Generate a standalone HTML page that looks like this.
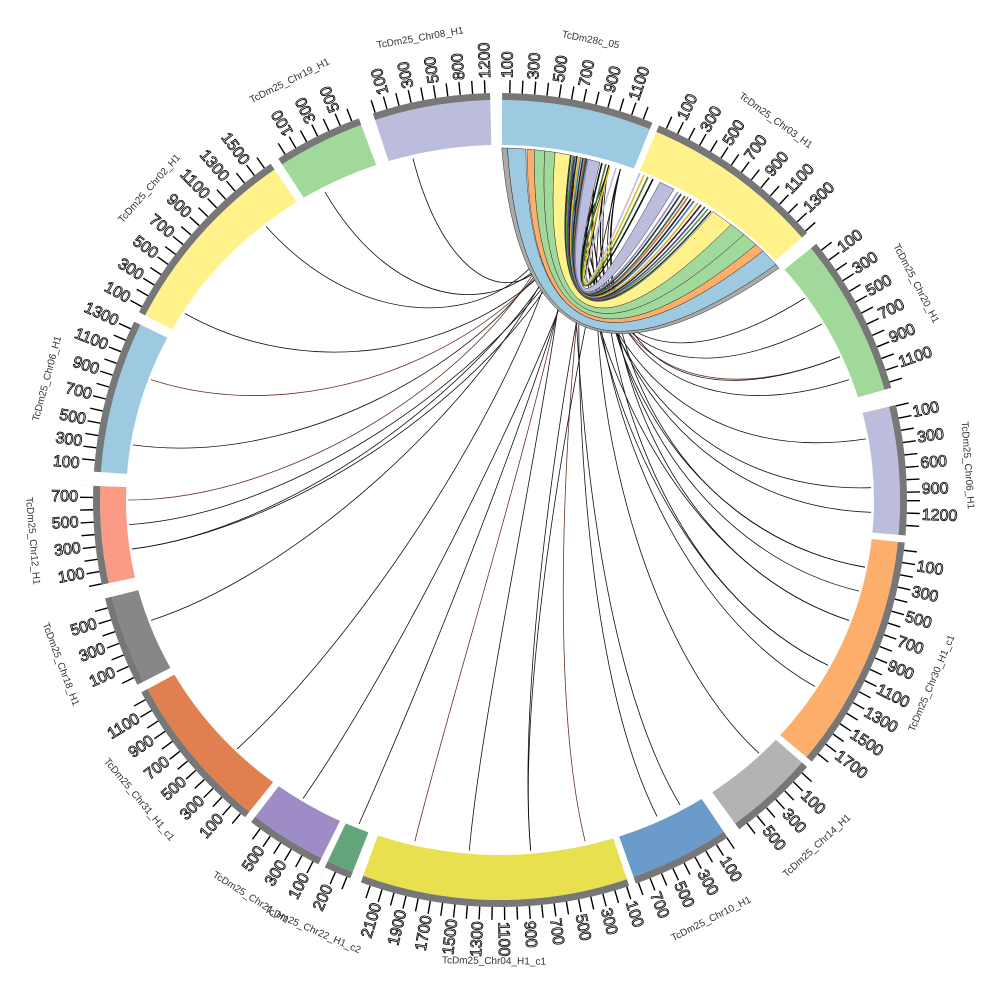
<!DOCTYPE html>
<html><head><meta charset="utf-8"><style>
html,body{margin:0;padding:0;background:#fff;width:1000px;height:1000px;overflow:hidden}
svg{display:block}
text{font-family:"Liberation Sans",sans-serif}
.n{font-size:16px;fill:#fff;stroke:#000;stroke-width:.8}
.m{font-size:16px;fill:#fff;stroke:#000;stroke-width:.8;text-anchor:end}
.nm{font-size:10px;fill:#333;text-anchor:middle}
.lk{fill:none;stroke:#111;stroke-width:.8}
.lb{fill:none;stroke:#6a3020;stroke-width:.8}
</style></head><body>
<svg width="1000" height="1000" viewBox="0 0 1000 1000" xmlns="http://www.w3.org/2000/svg">
<defs>
<mask id="mk"><rect x="0" y="0" width="1000" height="1000" fill="#fff"/><ellipse cx="500" cy="500" rx="374" ry="355" fill="#000"/></mask>
</defs>
<!-- links -->
<g>
<path class="lk" d="M573.2,155.7 C570,320 644,399 805,298"/>
<path class="lk" d="M585.2,158.5 C570,320 652,412 822,324"/>
<path class="lb" d="M597,161.6 C570,320 661,428 840,356.8"/>
<path class="lk" d="M608.8,165.2 C570,320 665,440 849,379.6"/>
<path class="lk" d="M573.2,155.7 C570,320 673,469 866,438.9"/>
<path class="lk" d="M585.2,158.5 C570,320 676,494 871,487.7"/>
<path class="lk" d="M597,161.6 C570,320 676,506 871,512.3"/>
<path class="lk" d="M608.8,165.2 C570,320 673,534 865,567.2"/>
<path class="lk" d="M620.4,169.2 C570,320 670,546 859,591.1"/>
<path class="lk" d="M573.2,155.7 C570,320 665,560 849,620.4"/>
<path class="lk" d="M585.2,158.5 C570,320 655,583 828,665.3"/>
<path class="lk" d="M597,161.6 C570,320 649,593 815,686.5"/>
<path class="lk" d="M608.8,165.2 C570,320 622,627 759,753.2"/>
<path class="lk" d="M573.2,155.7 C570,320 588,652 680,804.8"/>
<path class="lk" d="M585.2,158.5 C570,320 577,658 657,816.4"/>
<path class="lb" d="M597,161.6 C570,320 543,671 585.2,841.5"/>
<path class="lk" d="M608.8,165.2 C570,320 515,675 530.7,850.7"/>
<path class="lk" d="M573.2,155.7 C570,320 485,675 469.3,850.7"/>
<path class="lb" d="M585.2,158.5 C570,320 457,671 414.8,841.5"/>
<path class="lk" d="M597,161.6 C570,320 431,662 359,824"/>
<path class="lk" d="M608.8,165.2 C570,320 407,649 303,798.5"/>
<path class="lk" d="M573.2,155.7 C570,320 376,624 237,748.9"/>
<path class="lk" d="M585.2,158.5 C570,320 335,560 151,620.4"/>
<path class="lk" d="M597,161.6 C570,320 326,525 132,549"/>
<path class="lk" d="M608.8,165.2 C570,320 324,512 129,524.6"/>
<path class="lb" d="M573.2,155.7 C570,320 324,500 128,500"/>
<path class="lk" d="M585.2,158.5 C570,320 326,472 133,444.9"/>
<path class="lb" d="M597,161.6 C570,320 335,440 151,379.6"/>
<path class="lk" d="M608.8,165.2 C570,320 351,407 185,313.5"/>
<path class="lk" d="M573.2,155.7 C570,320 389,363 266,226.4"/>
<path class="lk" d="M585.2,158.5 C570,320 415,346 325,192.1"/>
<path class="lk" d="M573.2,155.7 C570,320 457,329 413,158.5"/>
<path class="lk" d="M620.4,169.2 C580,330 661,428 840,356.8"/>
<path class="lk" d="M620.4,169.2 C580,330 673,534 865,567.2"/>
<path class="lk" d="M620.4,169.2 C580,330 665,560 849,620.4"/>
<path class="lk" d="M608.8,165.2 C580,330 655,583 828,665.3"/>
<path class="lk" d="M597,161.6 C580,330 326,525 132,549"/>
<path class="lk" d="M620.4,169.2 C580,330 515,675 530.7,850.7"/>
</g>
<!-- ribbons -->
<g stroke="#333" stroke-width=".5">
<path fill="#aaaaaa" d="M501.8,148 L507.4,148.1 Q526,442 776,264.5 L779,268.2 Q525,444 501.8,148 Z"/>
<path fill="#9ecae1" d="M507.4,148.1 A352,352 0 0 1 525.8,149.1 Q529,434 763,251.1 L776,264.5 Q526,442 507.4,148.1 Z"/>
<path fill="#fdae6b" d="M527,149 L534.3,149.7 Q531,431 756,244.7 L763,251.1 Q529,434 527,149 Z"/>
<path fill="#a1d99b" d="M534.3,149.7 L544.7,150.9 Q532,427 744,234.4 L756,244.7 Q531,431 534.3,149.7 Z"/>
<path fill="#a1d99b" d="M544.7,150.9 L555.1,152.3 Q534,422 731,224.5 L744,234.4 Q532,427 544.7,150.9 Z"/>
<path fill="#fff28a" d="M555.1,152.3 A352,352 0 0 1 570.2,155.1 Q536,416 713,211.6 L731,224.5 Q534,422 555.1,152.3 Z"/>
<path fill="#bcbddc" d="M588.1,159.2 L600,162.5 Q541,404 660,182.3 L674,189.2 Q539,409 588.1,159.2 Z"/>
</g>
<g fill="none" stroke-width="1.6">
<path stroke="#333" d="M571,155 Q537,414 711,211"/>
<path stroke="#4a9a40" d="M573,156 Q537,413 708,209"/>
<path stroke="#5a3a8a" d="M575,156 Q537,413 705,207"/>
<path stroke="#222" d="M577,156 Q538,412 701,205"/>
<path stroke="#e0b020" d="M579,157 Q538,412 698,203"/>
<path stroke="#3a7ab0" d="M581,157 Q538,411 694,201"/>
<path stroke="#222" d="M583,158 Q539,411 691,199"/>
<path stroke="#d06a30" d="M585,158 Q539,410 688,197"/>
<path stroke="#2a6a4a" d="M586,158 Q539,410 685,196"/>
<path stroke="#333" d="M587,159 Q539,409 681,194"/>
<path stroke="#8a8ac0" d="M588,159 Q539,409 678,192"/>
<path stroke="#111" d="M602,163 Q543,400 653,179"/>
<path stroke="#4a7a30" d="M606,164 Q543,400 648,177"/>
<path stroke="#e0c020" d="M610,166 Q544,398 644,175"/>
<path stroke="#bcbddc" d="M616,168 Q545,396 640,173"/>
</g>
<!-- colored segments -->
<g fill="none" stroke-width="45" mask="url(#mk)">
<circle cx="500" cy="500" r="377.5" stroke="#9ecae1" stroke-dasharray="143 3000" transform="rotate(-89.7 500 500)"/>
<circle cx="500" cy="500" r="377.5" stroke="#fff28a" stroke-dasharray="171.3 3000" transform="rotate(-67 500 500)"/>
<circle cx="500" cy="500" r="377.5" stroke="#a1d99b" stroke-dasharray="151.5 3000" transform="rotate(-39 500 500)"/>
<circle cx="500" cy="500" r="377.5" stroke="#bcbddc" stroke-dasharray="121.9 3000" transform="rotate(-13.5 500 500)"/>
<circle cx="500" cy="500" r="377.5" stroke="#fdae6b" stroke-dasharray="224 3000" transform="rotate(6 500 500)"/>
<circle cx="500" cy="500" r="377.5" stroke="#b3b3b3" stroke-dasharray="85.7 3000" transform="rotate(41 500 500)"/>
<circle cx="500" cy="500" r="377.5" stroke="#6b9bcb" stroke-dasharray="95.5 3000" transform="rotate(56 500 500)"/>
<circle cx="500" cy="500" r="377.5" stroke="#e8e04f" stroke-dasharray="253.7 3000" transform="rotate(71.5 500 500)"/>
<circle cx="500" cy="500" r="377.5" stroke="#63a57a" stroke-dasharray="25.7 3000" transform="rotate(111.6 500 500)"/>
<circle cx="500" cy="500" r="377.5" stroke="#9d8cc6" stroke-dasharray="73.8 3000" transform="rotate(116.5 500 500)"/>
<circle cx="500" cy="500" r="377.5" stroke="#e07f4f" stroke-dasharray="151.5 3000" transform="rotate(128.8 500 500)"/>
<circle cx="500" cy="500" r="377.5" stroke="#878787" stroke-dasharray="85.7 3000" transform="rotate(153 500 500)"/>
<circle cx="500" cy="500" r="377.5" stroke="#fb9a85" stroke-dasharray="92.2 3000" transform="rotate(168 500 500)"/>
<circle cx="500" cy="500" r="377.5" stroke="#9ecae1" stroke-dasharray="145 3000" transform="rotate(184 500 500)"/>
<circle cx="500" cy="500" r="377.5" stroke="#fff28a" stroke-dasharray="185.8 3000" transform="rotate(207.5 500 500)"/>
<circle cx="500" cy="500" r="377.5" stroke="#a1d99b" stroke-dasharray="83.7 3000" transform="rotate(237 500 500)"/>
<circle cx="500" cy="500" r="377.5" stroke="#bcbddc" stroke-dasharray="110.7 3000" transform="rotate(251.8 500 500)"/>
</g>
<!-- grey ring and ticks -->
<circle cx="500" cy="500" r="403.5" fill="none" stroke="#777" stroke-width="7"/>
<circle cx="500" cy="500" r="413.5" fill="none" stroke="#000" stroke-width="13" stroke-dasharray="1.4 11.23"/>
<!-- gaps -->
<g fill="none" stroke="#fff" stroke-width="22">
<circle cx="500" cy="500" r="410" stroke-dasharray="7.2 3000" transform="rotate(-68 500 500)"/>
<circle cx="500" cy="500" r="410" stroke-dasharray="14.3 3000" transform="rotate(-41 500 500)"/>
<circle cx="500" cy="500" r="410" stroke-dasharray="17.9 3000" transform="rotate(-16 500 500)"/>
<circle cx="500" cy="500" r="410" stroke-dasharray="7.2 3000" transform="rotate(5 500 500)"/>
<circle cx="500" cy="500" r="410" stroke-dasharray="7.2 3000" transform="rotate(40 500 500)"/>
<circle cx="500" cy="500" r="410" stroke-dasharray="14.3 3000" transform="rotate(54 500 500)"/>
<circle cx="500" cy="500" r="410" stroke-dasharray="7.2 3000" transform="rotate(70.5 500 500)"/>
<circle cx="500" cy="500" r="410" stroke-dasharray="11.4 3000" transform="rotate(110 500 500)"/>
<circle cx="500" cy="500" r="410" stroke-dasharray="7.2 3000" transform="rotate(115.5 500 500)"/>
<circle cx="500" cy="500" r="410" stroke-dasharray="7.9 3000" transform="rotate(127.7 500 500)"/>
<circle cx="500" cy="500" r="410" stroke-dasharray="8.6 3000" transform="rotate(151.8 500 500)"/>
<circle cx="500" cy="500" r="410" stroke-dasharray="14.3 3000" transform="rotate(166 500 500)"/>
<circle cx="500" cy="500" r="410" stroke-dasharray="14.3 3000" transform="rotate(182 500 500)"/>
<circle cx="500" cy="500" r="410" stroke-dasharray="10.7 3000" transform="rotate(206 500 500)"/>
<circle cx="500" cy="500" r="410" stroke-dasharray="9.3 3000" transform="rotate(235.7 500 500)"/>
<circle cx="500" cy="500" r="410" stroke-dasharray="15 3000" transform="rotate(249.7 500 500)"/>
<circle cx="500" cy="500" r="410" stroke-dasharray="12.2 3000" transform="rotate(268.6 500 500)"/>
</g>
<!-- tick numbers -->
<g>
<text class="n" transform="rotate(1 500 500) translate(505 78) rotate(-90)">100</text>
<text class="n" transform="rotate(4.5 500 500) translate(505 78) rotate(-90)">300</text>
<text class="n" transform="rotate(8 500 500) translate(505 78) rotate(-90)">500</text>
<text class="n" transform="rotate(11.5 500 500) translate(505 78) rotate(-90)">700</text>
<text class="n" transform="rotate(15 500 500) translate(505 78) rotate(-90)">900</text>
<text class="n" transform="rotate(18.5 500 500) translate(505 78) rotate(-90)">1100</text>
<text class="n" transform="rotate(25.5 500 500) translate(505 78) rotate(-90)">100</text>
<text class="n" transform="rotate(29 500 500) translate(505 78) rotate(-90)">300</text>
<text class="n" transform="rotate(32.5 500 500) translate(505 78) rotate(-90)">500</text>
<text class="n" transform="rotate(36 500 500) translate(505 78) rotate(-90)">700</text>
<text class="n" transform="rotate(39.5 500 500) translate(505 78) rotate(-90)">900</text>
<text class="n" transform="rotate(43 500 500) translate(505 78) rotate(-90)">1100</text>
<text class="n" transform="rotate(46.5 500 500) translate(505 78) rotate(-90)">1300</text>
<text class="n" transform="rotate(53.5 500 500) translate(505 78) rotate(-90)">100</text>
<text class="n" transform="rotate(57 500 500) translate(505 78) rotate(-90)">300</text>
<text class="n" transform="rotate(60.5 500 500) translate(505 78) rotate(-90)">500</text>
<text class="n" transform="rotate(64 500 500) translate(505 78) rotate(-90)">700</text>
<text class="n" transform="rotate(67.5 500 500) translate(505 78) rotate(-90)">900</text>
<text class="n" transform="rotate(71 500 500) translate(505 78) rotate(-90)">1100</text>
<text class="n" transform="rotate(78 500 500) translate(505 78) rotate(-90)">100</text>
<text class="n" transform="rotate(81.5 500 500) translate(505 78) rotate(-90)">300</text>
<text class="n" transform="rotate(85 500 500) translate(505 78) rotate(-90)">600</text>
<text class="n" transform="rotate(88.5 500 500) translate(505 78) rotate(-90)">900</text>
<text class="n" transform="rotate(92 500 500) translate(505 78) rotate(-90)">1200</text>
<text class="n" transform="rotate(99 500 500) translate(505 78) rotate(-90)">100</text>
<text class="n" transform="rotate(102.5 500 500) translate(505 78) rotate(-90)">300</text>
<text class="n" transform="rotate(106 500 500) translate(505 78) rotate(-90)">500</text>
<text class="n" transform="rotate(109.5 500 500) translate(505 78) rotate(-90)">700</text>
<text class="n" transform="rotate(113 500 500) translate(505 78) rotate(-90)">900</text>
<text class="n" transform="rotate(116.5 500 500) translate(505 78) rotate(-90)">1100</text>
<text class="n" transform="rotate(120 500 500) translate(505 78) rotate(-90)">1300</text>
<text class="n" transform="rotate(123.5 500 500) translate(505 78) rotate(-90)">1500</text>
<text class="n" transform="rotate(127 500 500) translate(505 78) rotate(-90)">1700</text>
<text class="n" transform="rotate(134 500 500) translate(505 78) rotate(-90)">100</text>
<text class="n" transform="rotate(137.5 500 500) translate(505 78) rotate(-90)">300</text>
<text class="n" transform="rotate(141 500 500) translate(505 78) rotate(-90)">500</text>
<text class="n" transform="rotate(148 500 500) translate(505 78) rotate(-90)">100</text>
<text class="n" transform="rotate(151.5 500 500) translate(505 78) rotate(-90)">300</text>
<text class="n" transform="rotate(155 500 500) translate(505 78) rotate(-90)">500</text>
<text class="n" transform="rotate(158.5 500 500) translate(505 78) rotate(-90)">700</text>
<text class="n" transform="rotate(162 500 500) translate(505 78) rotate(-90)">100</text>
<text class="n" transform="rotate(165.5 500 500) translate(505 78) rotate(-90)">300</text>
<text class="n" transform="rotate(169 500 500) translate(505 78) rotate(-90)">500</text>
<text class="n" transform="rotate(172.5 500 500) translate(505 78) rotate(-90)">700</text>
<text class="n" transform="rotate(176 500 500) translate(505 78) rotate(-90)">900</text>
<text class="n" transform="rotate(179.5 500 500) translate(505 78) rotate(-90)">1100</text>
<text class="m" transform="rotate(183 500 500) translate(495 78) rotate(90)">1300</text>
<text class="m" transform="rotate(186.5 500 500) translate(495 78) rotate(90)">1500</text>
<text class="m" transform="rotate(190 500 500) translate(495 78) rotate(90)">1700</text>
<text class="m" transform="rotate(193.5 500 500) translate(495 78) rotate(90)">1900</text>
<text class="m" transform="rotate(197 500 500) translate(495 78) rotate(90)">2100</text>
<text class="m" transform="rotate(204 500 500) translate(495 78) rotate(90)">200</text>
<text class="m" transform="rotate(207.5 500 500) translate(495 78) rotate(90)">100</text>
<text class="m" transform="rotate(211 500 500) translate(495 78) rotate(90)">300</text>
<text class="m" transform="rotate(214.5 500 500) translate(495 78) rotate(90)">500</text>
<text class="m" transform="rotate(221.5 500 500) translate(495 78) rotate(90)">100</text>
<text class="m" transform="rotate(225 500 500) translate(495 78) rotate(90)">300</text>
<text class="m" transform="rotate(228.5 500 500) translate(495 78) rotate(90)">500</text>
<text class="m" transform="rotate(232 500 500) translate(495 78) rotate(90)">700</text>
<text class="m" transform="rotate(235.5 500 500) translate(495 78) rotate(90)">900</text>
<text class="m" transform="rotate(239 500 500) translate(495 78) rotate(90)">1100</text>
<text class="m" transform="rotate(246 500 500) translate(495 78) rotate(90)">100</text>
<text class="m" transform="rotate(249.5 500 500) translate(495 78) rotate(90)">300</text>
<text class="m" transform="rotate(253 500 500) translate(495 78) rotate(90)">500</text>
<text class="m" transform="rotate(260 500 500) translate(495 78) rotate(90)">100</text>
<text class="m" transform="rotate(263.5 500 500) translate(495 78) rotate(90)">300</text>
<text class="m" transform="rotate(267 500 500) translate(495 78) rotate(90)">500</text>
<text class="m" transform="rotate(270.5 500 500) translate(495 78) rotate(90)">700</text>
<text class="m" transform="rotate(275 500 500) translate(495 78) rotate(90)">100</text>
<text class="m" transform="rotate(278 500 500) translate(495 78) rotate(90)">300</text>
<text class="m" transform="rotate(281 500 500) translate(495 78) rotate(90)">500</text>
<text class="m" transform="rotate(284.5 500 500) translate(495 78) rotate(90)">700</text>
<text class="m" transform="rotate(288 500 500) translate(495 78) rotate(90)">900</text>
<text class="m" transform="rotate(291.5 500 500) translate(495 78) rotate(90)">1100</text>
<text class="m" transform="rotate(295 500 500) translate(495 78) rotate(90)">1300</text>
<text class="m" transform="rotate(298.5 500 500) translate(495 78) rotate(90)">100</text>
<text class="m" transform="rotate(302 500 500) translate(495 78) rotate(90)">300</text>
<text class="m" transform="rotate(305.5 500 500) translate(495 78) rotate(90)">500</text>
<text class="m" transform="rotate(309 500 500) translate(495 78) rotate(90)">700</text>
<text class="m" transform="rotate(312.5 500 500) translate(495 78) rotate(90)">900</text>
<text class="m" transform="rotate(316 500 500) translate(495 78) rotate(90)">1100</text>
<text class="m" transform="rotate(319.5 500 500) translate(495 78) rotate(90)">1300</text>
<text class="m" transform="rotate(323 500 500) translate(495 78) rotate(90)">1500</text>
<text class="n" transform="rotate(330 500 500) translate(505 78) rotate(-90)">100</text>
<text class="n" transform="rotate(333.5 500 500) translate(505 78) rotate(-90)">300</text>
<text class="n" transform="rotate(337 500 500) translate(505 78) rotate(-90)">500</text>
<text class="n" transform="rotate(344 500 500) translate(505 78) rotate(-90)">100</text>
<text class="n" transform="rotate(347.5 500 500) translate(505 78) rotate(-90)">300</text>
<text class="n" transform="rotate(351 500 500) translate(505 78) rotate(-90)">500</text>
<text class="n" transform="rotate(354.5 500 500) translate(505 78) rotate(-90)">800</text>
<text class="n" transform="rotate(358 500 500) translate(505 78) rotate(-90)">1200</text>
</g>
<!-- names -->
<g>
<text class="nm" transform="rotate(11.15 500 500) translate(500 34)">TcDm28c_05</text>
<text class="nm" transform="rotate(36 500 500) translate(500 34)">TcDm25_Chr03_H1</text>
<text class="nm" transform="rotate(62.5 500 500) translate(500 34)">TcDm25_Chr20_H1</text>
<text class="nm" transform="rotate(85.75 500 500) translate(500 34)">TcDm25_Chr06_H1</text>
<text class="nm" transform="rotate(-67 500 500) translate(500 972)">TcDm25_Chr30_H1_c1</text>
<text class="nm" transform="rotate(-42.5 500 500) translate(500 972)">TcDm25_Chr14_H1</text>
<text class="nm" transform="rotate(-26.75 500 500) translate(500 972)">TcDm25_Chr10_H1</text>
<text class="nm" transform="rotate(0.75 500 500) translate(500 964)">TcDm25_Chr04_H1_c1</text>
<text class="nm" transform="rotate(23.55 500 500) translate(500 972)">TcDm25_Chr22_H1_c2</text>
<text class="nm" transform="rotate(32.1 500 500) translate(500 972)">TcDm25_Chr21_H1</text>
<text class="nm" transform="rotate(50.3 500 500) translate(500 972)">TcDm25_Chr31_H1_c1</text>
<text class="nm" transform="rotate(69.5 500 500) translate(500 972)">TcDm25_Chr18_H1</text>
<text class="nm" transform="rotate(85 500 500) translate(500 972)">TcDm25_Chr12_H1</text>
<text class="nm" transform="rotate(285 500 500) translate(500 34)">TcDm25_Chr06_H1</text>
<text class="nm" transform="rotate(311.6 500 500) translate(500 34)">TcDm25_Chr02_H1</text>
<text class="nm" transform="rotate(333.35 500 500) translate(500 34)">TcDm25_Chr19_H1</text>
<text class="nm" transform="rotate(350.2 500 500) translate(500 34)">TcDm25_Chr08_H1</text>
</g>
</svg>
</body></html>
